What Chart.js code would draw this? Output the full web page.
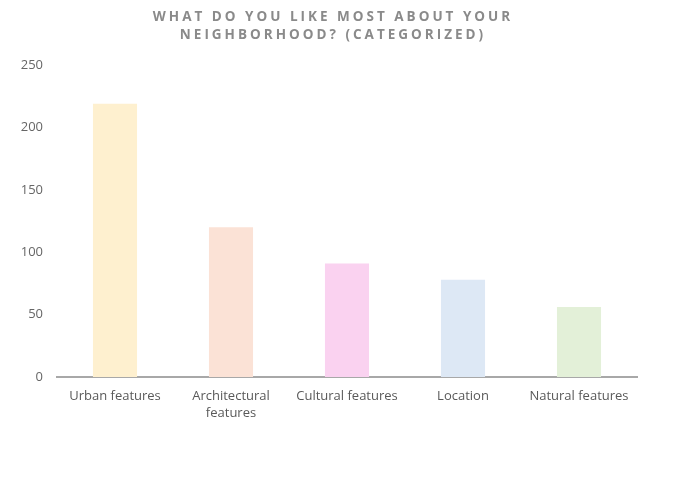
<!DOCTYPE html>
<html>
<head>
<meta charset="utf-8">
<script src="https://cdn.jsdelivr.net/npm/chart.js@4/dist/chart.umd.min.js"></script>
<style>
  html, body { margin: 0; padding: 0; background: #ffffff; }
  #wrap { position: relative; width: 679px; height: 493px; }
</style>
</head>
<body>
<div id="wrap"><canvas id="c" width="679" height="493"></canvas></div>
<script>
const titleLines = ["WHAT DO YOU LIKE MOST ABOUT YOUR", "NEIGHBORHOOD? (CATEGORIZED)"];
const categories = ["Urban features", ["Architectural", "features"], "Cultural features", "Location", "Natural features"];
const values = [219, 120, 91, 78, 56];
const barColors = ["#FEF0CF", "#FBE2D6", "#FAD2F0", "#DDE8F5", "#E3F0D8"];
const yTicks = [0, 50, 100, 150, 200, 250];

const titlePlugin = {
  id: 'spacedTitle',
  afterDraw(chart) {
    const ctx = chart.ctx;
    ctx.save();
    ctx.font = 'bold 13.5px "Open Sans", sans-serif';
    ctx.fillStyle = '#8a8a8a';
    ctx.textAlign = 'center';
    ctx.textBaseline = 'middle';
    if ('letterSpacing' in ctx) ctx.letterSpacing = '3px';
    const cx = 333;
    const ys = [17, 35];
    titleLines.forEach((t, i) => ctx.fillText(t, cx, ys[i]));
    ctx.restore();
  }
};

new Chart(document.getElementById('c'), {
  type: 'bar',
  data: {
    labels: categories,
    datasets: [{
      data: values,
      backgroundColor: barColors,
      borderWidth: 0,
      barPercentage: 0.38,
      categoryPercentage: 1.0
    }]
  },
  options: {
    responsive: false,
    animation: false,
    layout: { padding: { top: 65, right: 42, left: 0, bottom: 0 } },
    plugins: {
      legend: { display: false },
      title: { display: false },
      tooltip: { enabled: false }
    },
    scales: {
      x: {
        grid: { display: false, drawTicks: false },
        border: { display: true, color: '#a8a8a8', width: 2 },
        ticks: {
          color: '#595959',
          font: { family: '"Open Sans", sans-serif', size: 13, lineHeight: 1.3 },
          padding: 11,
          maxRotation: 0,
          autoSkip: false
        },
        afterFit(scale) { scale.height = 116; }
      },
      y: {
        min: 0,
        max: 250,
        afterBuildTicks(scale) { scale.ticks = yTicks.map(v => ({ value: v })); },
        grid: { display: false, drawTicks: false },
        border: { display: false },
        ticks: {
          color: '#666666',
          font: { family: '"Open Sans", sans-serif', size: 13 },
          padding: 14
        },
        afterFit(scale) { scale.width = 57; }
      }
    }
  },
  plugins: [titlePlugin]
});
</script>
</body>
</html>
